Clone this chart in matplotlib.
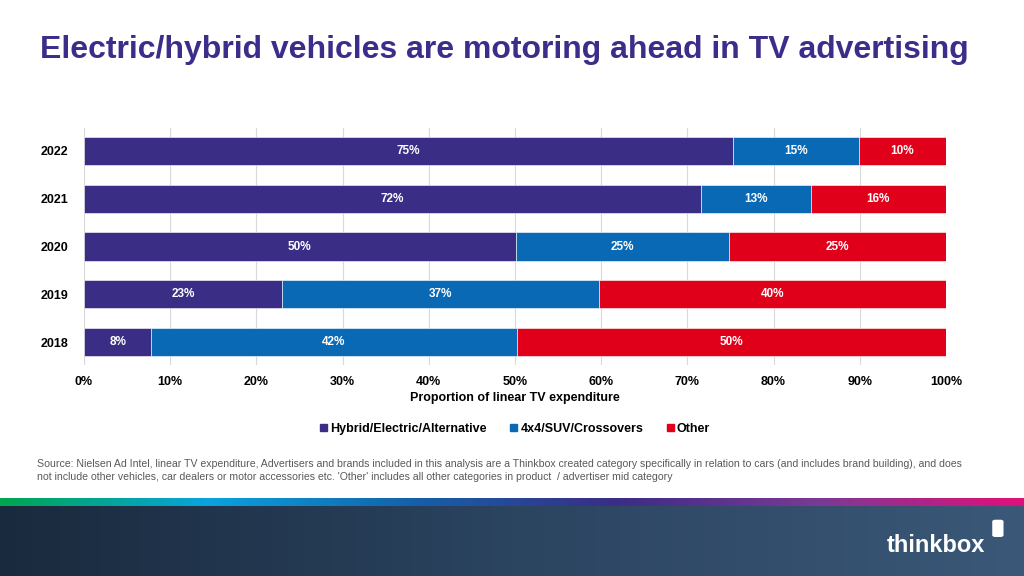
import matplotlib.pyplot as plt
import numpy as np
from matplotlib.patches import Patch, FancyBboxPatch
from matplotlib.colors import LinearSegmentedColormap

plt.rcParams['font.family'] = ['Liberation Sans', 'DejaVu Sans']

# data (shares of linear TV spend, %)
years = ['2018', '2019', '2020', '2021', '2022']
hybrid = [7.8, 23.0, 50.1, 71.6, 75.3]
suv = [42.4, 36.7, 24.7, 12.7, 14.6]
other = [49.8, 40.3, 25.2, 15.7, 10.1]
series_names = ['Hybrid/Electric/Alternative', '4x4/SUV/Crossovers', 'Other']
colors = ['#3A2D85', '#0A69B4', '#E0001A']

fig = plt.figure(figsize=(10.24, 5.76), dpi=100)
fig.patch.set_facecolor('white')

# title
fig.text(0.039, 1 - 50 / 576, 'Electric/hybrid vehicles are motoring ahead in TV advertising',
         fontsize=23, fontweight='bold', color='#3B2E8A', va='center', ha='left')

ax = fig.add_axes([84 / 1024, 1 - 365 / 576, (946 - 84) / 1024, (365 - 128) / 576])
y = np.arange(len(years))
left = np.zeros(len(years))
for vals, name, c in zip([hybrid, suv, other], series_names, colors):
    ax.barh(y, vals, left=left, height=0.59, color=c, edgecolor='white',
            linewidth=0.4, label=name, zorder=3)
    for yi, l, v in zip(y, left, vals):
        ax.text(l + v / 2, yi, f'{v:.0f}%', ha='center', va='center', color='white',
                fontsize=8.5, fontweight='bold', zorder=4)
    left = left + np.array(vals)

ax.set_xlim(0, 100)
ax.set_ylim(-0.48, 4.48)
ax.set_xticks(np.arange(0, 101, 10))
ax.set_xticklabels([f'{t}%' for t in range(0, 101, 10)], fontsize=9, fontweight='bold')
ax.set_yticks(y)
ax.set_yticklabels(years, fontsize=9, fontweight='bold')
ax.tick_params(axis='x', length=0, pad=8)
ax.tick_params(axis='y', length=0, pad=11)
ax.grid(axis='x', color='#D9D9D9', linewidth=0.8, zorder=0)
for s in ax.spines.values():
    s.set_visible(False)
ax.set_xlabel('Proportion of linear TV expenditure', fontsize=9, fontweight='bold', labelpad=3)

handles = [Patch(color=c, label=n) for c, n in zip(colors, series_names)]
leg = fig.legend(handles=handles, loc='center', bbox_to_anchor=(0.503, 1 - 429 / 576), ncol=3,
                 frameon=False, fontsize=9, handlelength=0.55, handleheight=0.55,
                 handletextpad=0.25, columnspacing=1.9)
for t in leg.get_texts():
    t.set_fontweight('bold')

fig.text(0.036, 1 - 464 / 576,
         'Source: Nielsen Ad Intel, linear TV expenditure, Advertisers and brands included in this analysis are a Thinkbox created category specifically in relation to cars (and includes brand building), and does',
         fontsize=7.6, color='#595959', va='center', ha='left')
fig.text(0.036, 1 - 477 / 576,
         "not include other vehicles, car dealers or motor accessories etc. 'Other' includes all other categories in product  / advertiser mid category",
         fontsize=7.6, color='#595959', va='center', ha='left')

# footer
strip = fig.add_axes([0, 1 - 506 / 576, 1, 8 / 576])
strip_cmap = LinearSegmentedColormap.from_list(
    'strip', ['#00A650', '#0AA3DD', '#1462AA', '#3A2D85', '#7A3A95', '#E0107A'])
strip.imshow(np.linspace(0, 1, 256)[None, :], aspect='auto', cmap=strip_cmap)
strip.axis('off')

foot = fig.add_axes([0, 0, 1, 70 / 576])
foot_cmap = LinearSegmentedColormap.from_list('foot', ['#1A2A3E', '#2B4460', '#3B5878'])
foot.imshow(np.linspace(0, 1, 256)[None, :], aspect='auto', cmap=foot_cmap)
foot.axis('off')
fig.text(0.914, 1 - 546 / 576, 'thinkbox', fontsize=17, color='white', ha='center',
         va='center', fontweight='bold')
fig.patches.append(FancyBboxPatch((0.969, 1 - 537 / 576), 0.011, 0.03,
                                  boxstyle='round,pad=0,rounding_size=0.003',
                                  transform=fig.transFigure, facecolor='white',
                                  edgecolor='none', figure=fig))

fig.savefig('out.png', dpi=100)
